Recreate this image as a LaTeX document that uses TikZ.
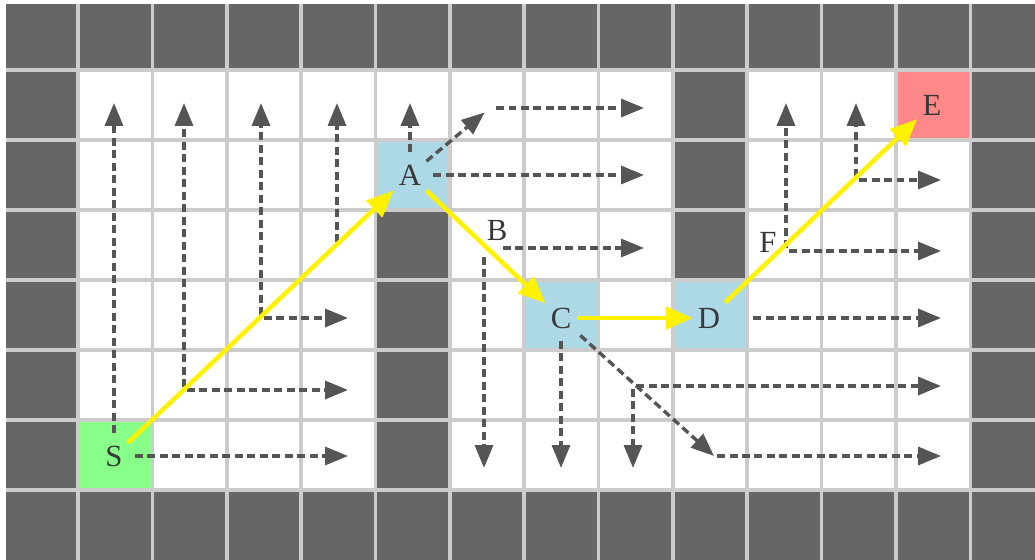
\documentclass[tikz,border=0pt]{standalone}
\usepackage{fontspec}
\setmainfont{Liberation Serif}
\usetikzlibrary{arrows.meta}
\definecolor{wall}{HTML}{666666}
\definecolor{gridline}{HTML}{CCCCCC}
\definecolor{startcell}{HTML}{88FF88}
\definecolor{goalcell}{HTML}{FF8888}
\definecolor{jumpcell}{HTML}{ADD8E6}
\definecolor{scangray}{HTML}{555555}
\definecolor{labelgray}{HTML}{383838}
\tikzset{
  lab/.style={font=\fontsize{17.5}{20}\selectfont,text=labelgray,inner sep=0.1cm},
  scan/.style={draw=scangray,line width=0.068cm,dash pattern=on 0.16cm off 0.09cm,
    -{Triangle[length=0.46cm,width=0.36cm]},shorten <=0.06cm},
  route/.style={draw=yellow,line width=0.09cm,-{Triangle[length=0.54cm,width=0.45cm]}}
}
\begin{document}
\begin{tikzpicture}[x=0.02cm,y=-0.02cm]
  \useasboundingbox (0,0) rectangle (1035,560);
  \fill[wall] (5.7,4.5) rectangle (1035,560);
  \fill[white] (78,70) rectangle (970,490);
  \foreach \c/\r/\clr in {5/3/wall,5/4/wall,5/5/wall,5/6/wall,9/1/wall,9/2/wall,9/3/wall,
      1/6/startcell,5/2/jumpcell,7/4/jumpcell,9/4/jumpcell,12/1/goalcell}
    \fill[\clr] ({3.7+74.35*\c},{70*\r}) rectangle ++(74.35,70);
  \foreach \i in {1,...,13}
    \draw[gridline,line width=0.07cm] ({3.7+74.35*\i},4.5) -- ({3.7+74.35*\i},560);
  \foreach \j in {1,...,7}
    \draw[gridline,line width=0.07cm] (5.7,70*\j) -- (1035,70*\j);

  \coordinate (top) at (0,103);
  \coordinate (bot) at (0,468);
  \coordinate (east1) at (348,0);
  \coordinate (east2) at (644,0);
  \coordinate (east3) at (941,0);
  \coordinate (p2) at (184,390);
  \coordinate (p3) at (261,318);
  \coordinate (p4) at (337,245);
  \coordinate (q) at (490,108);
  \coordinate (b) at (484,248);
  \coordinate (p6) at (633,386);
  \coordinate (g) at (714,456);
  \coordinate (f) at (786,251);
  \coordinate (p7) at (856,180);

  \node[lab] (S) at (114,456) {S};
  \node[lab] (A) at (410,175) {A};
  \node[lab] (B) at (497,230) {B};
  \node[lab] (C) at (561,318) {C};
  \node[lab] (D) at (709,318) {D};
  \node[lab] (E) at (932,105) {E};
  \node[lab] (F) at (768,242) {F};

  \draw[scan,shorten <=0.14cm] (S) -- (S |- top);
  \draw[scan,shorten <=0.14cm] (S) -- (S -| east1);
  \foreach \p in {p2,p3} {
    \draw[scan] (\p) -- (\p |- top);
    \draw[scan] (\p) -- (\p -| east1);
  }
  \draw[scan] (p4) -- (p4 |- top);
  \draw[scan,shorten <=0.14cm] (A) -- (A |- top);
  \draw[scan,shorten <=0.14cm] (A) -- (A -| east2);
  \draw[scan,shorten <=0cm,shorten >=0.14cm] (A) -- (q);
  \draw[scan,shorten <=0.12cm] (q) -- (q -| east2);
  \draw[scan,shorten <=0.38cm] (b) -- (b -| east2);
  \draw[scan,shorten <=0.18cm] (b) -- (b |- bot);
  \draw[scan,shorten <=0.14cm] (C) -- (C |- bot);
  \draw[scan,shorten <=0.1cm] (C) -- (g);
  \draw[scan] (p6) -- (p6 -| east3);
  \draw[scan] (p6) -- (p6 |- bot);
  \draw[scan] (g) -- (g -| east3);
  \draw[scan,shorten <=0.56cm] (D) -- (D -| east3);
  \foreach \p in {f,p7} {
    \draw[scan] (\p) -- (\p |- top);
    \draw[scan] (\p) -- (\p -| east3);
  }

  \draw[route] (S) -- (A);
  \draw[route] (A) -- (C);
  \draw[route] (C) -- (D);
  \draw[route] (D) -- (E);
\end{tikzpicture}
\end{document}
